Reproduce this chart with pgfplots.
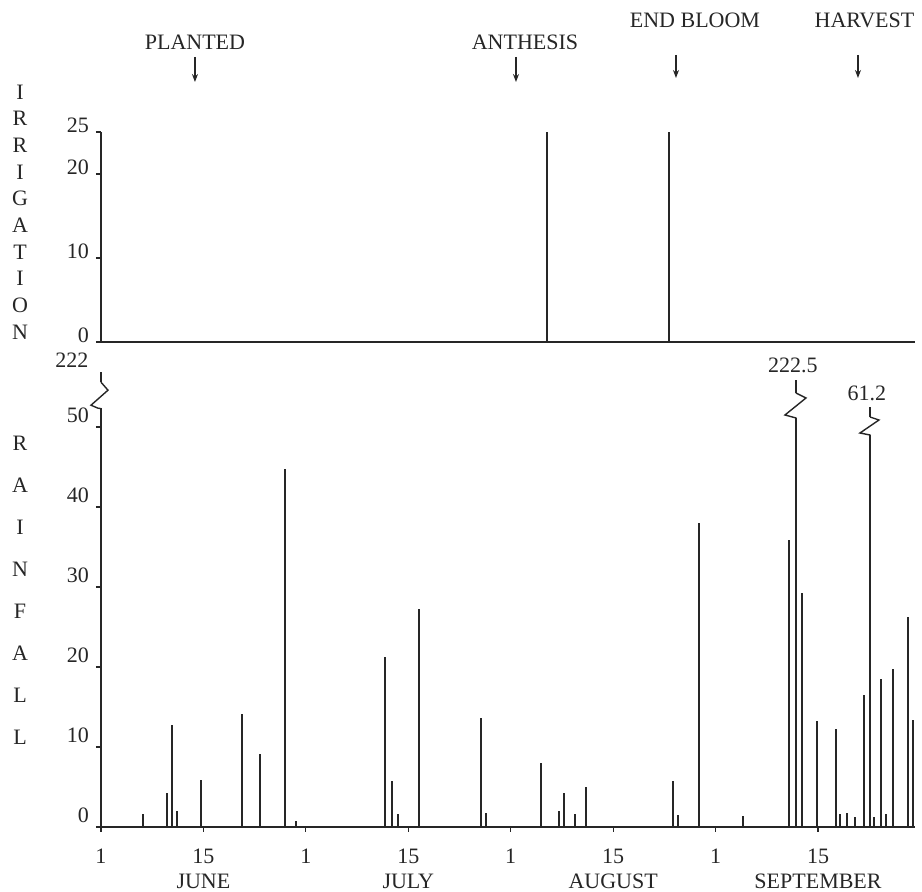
\documentclass[border=0pt]{standalone}
\usepackage{fontspec}
\setmainfont{Liberation Serif}
\usepackage{pgfplots}
\usepackage{pgfplotstable}
\pgfplotsset{compat=1.18}
\usetikzlibrary{arrows.meta}

% x = position in nominal days (each half month drawn as 15 days, 0 = June 1)
\pgfplotstableread{
x y
6.11 1.6
9.62 4.2
10.40 12.75
11.09 2.0
14.69 5.9
20.65 14.1
23.28 9.1
26.99 44.8
28.55 0.8
41.63 21.3
42.66 5.7
43.53 1.6
46.52 27.2
55.65 13.6
56.38 1.8
64.39 8.0
67.11 2.0
67.80 4.3
69.41 1.6
70.98 5.0
83.80 5.7
84.54 1.5
87.52 38.0
93.97 1.4
100.75 35.9
102.61 29.3
104.80 13.2
107.59 12.25
108.22 1.6
109.28 1.8
110.41 1.2
111.73 16.5
113.24 1.2
114.17 18.5
114.91 1.6
116.02 19.8
118.21 26.3
118.94 13.4
}\rain

\pgfplotstableread{
x y
101.77 222.5
}\rainbigA

\pgfplotstableread{
x y
112.61 61.2
}\rainbigB

\pgfplotstableread{
x y
65.31 25
83.17 25
}\irrig

\begin{document}
\begin{tikzpicture}[font=\fontsize{11}{13}\selectfont]
\path[use as bounding box] (-50.5pt,171pt) rectangle (410.5pt,-275pt);

\pgfplotsset{
  every axis/.append style={
    scale only axis,
    width=407pt,
    xmin=0, xmax=119.2,
    axis x line=bottom, axis y line=left,
    axis line style={-, line width=0.9pt, black!85},
    tick style={line width=0.6pt, black!85},
    tick align=outside,
    major tick length=2.5pt,
    /pgf/number format/assume math mode=true,
    tick label style={font=\fontsize{11}{12.5}\selectfont, text=black!85},
    clip=false,
  },
}

% ---------------- Irrigation ----------------
\begin{axis}[
  name=top,
  at={(0,0)}, anchor=south west,
  height=105pt,
  ymin=0, ymax=25,
  xtick=\empty,
  ytick={0,10,20,25},
  yticklabel style={yshift=3.5pt},
]
\addplot[ycomb, line width=1pt, black!85, no markers] table[x=x,y=y]{\irrig};

\node[font=\fontsize{11}{13.35}\selectfont, align=center, text=black!85] at (axis cs:-11.86,15.48)
  {I\\R\\R\\I\\G\\A\\T\\I\\O\\N};

\node[text=black!85] at (axis cs:13.76,35.7) {PLANTED};
\node[text=black!85] at (axis cs:62.09,35.7) {ANTHESIS};
\node[text=black!85] at (axis cs:86.98,38.33) {END BLOOM};
\node[text=black!85] at (axis cs:111.8,38.33) {HARVEST};
\draw[-{Stealth[length=4pt,width=3pt]}, line width=0.6pt, black!85] (axis cs:13.76,33.93) -- (axis cs:13.76,30.95);
\draw[-{Stealth[length=4pt,width=3pt]}, line width=0.6pt, black!85] (axis cs:60.77,33.93) -- (axis cs:60.77,30.95);
\draw[-{Stealth[length=4pt,width=3pt]}, line width=0.6pt, black!85] (axis cs:84.2,34.17) -- (axis cs:84.2,31.43);
\draw[-{Stealth[length=4pt,width=3pt]}, line width=0.6pt, black!85] (axis cs:110.85,34.17) -- (axis cs:110.85,31.43);
\end{axis}

% ---------------- Rainfall ----------------
\begin{axis}[
  at={(0,-15pt)}, anchor=north west,
  height=227.5pt,
  ymin=0, ymax=56.875,
  ytick={0,10,20,30,40,50},
  yticklabel style={yshift=6pt},
  xtick={0,15,30,45,60,75,90,105},
  xticklabels={1,{15\\JUNE},1,{15\\JULY},1,{15\\AUGUST},1,{15\\SEPTEMBER}},
  xticklabel style={align=center, yshift=-5pt, font=\fontsize{11}{12.5}\selectfont},
]
\addplot[ycomb, line width=1pt, black!85, no markers] table[x=x,y=y]{\rain};
\addplot[ycomb, line width=1pt, black!85, no markers, y filter/.expression={min(y,55.9)}] table[x=x,y=y]{\rainbigA};
\addplot[ycomb, line width=1pt, black!85, no markers, y filter/.expression={min(y,52.5)}] table[x=x,y=y]{\rainbigB};

\node[font=\fontsize{11}{21}\selectfont, align=center, text=black!85] at (axis cs:-11.86,29.6)
  {R\\A\\I\\N\\F\\A\\L\\L};

% axis break on the left
\fill[white] ([xshift=-1.5pt]axis cs:0,52.4) rectangle ([xshift=1.5pt]axis cs:0,55.6);
\draw[line width=0.7pt, black!85] (axis cs:0,55.6) -- ++(3.5pt,-4pt) -- ++(-8.5pt,-7.5pt) -- ++(3.5pt,-1.5pt) -- (axis cs:0,52.3);
\node[text=black!85] at (axis cs:-4.25,58.3) {222};

% break on the 222.5 bar
\fill[white] ([xshift=-1.5pt]axis cs:101.77,51.1) rectangle ([xshift=1.5pt]axis cs:101.77,54.25);
\draw[line width=0.7pt, black!85] (axis cs:101.77,54.25) -- ++(5pt,-2.5pt) -- ++(-10.5pt,-8.5pt) -- ++(5.5pt,-1.5pt) -- (axis cs:101.77,51.0);
\node[text=black!85] at (axis cs:101.33,57.75) {222.5};

% break on the 61.2 bar
\fill[white] ([xshift=-1.5pt]axis cs:112.61,49.0) rectangle ([xshift=1.5pt]axis cs:112.61,51.25);
\draw[line width=0.7pt, black!85] (axis cs:112.61,51.25) -- ++(4.5pt,-1.5pt) -- ++(-9.5pt,-6.5pt) -- ++(5pt,-1pt) -- (axis cs:112.61,48.9);
\node[text=black!85] at (axis cs:112.17,54.25) {61.2};
\end{axis}
\end{tikzpicture}
\end{document}
